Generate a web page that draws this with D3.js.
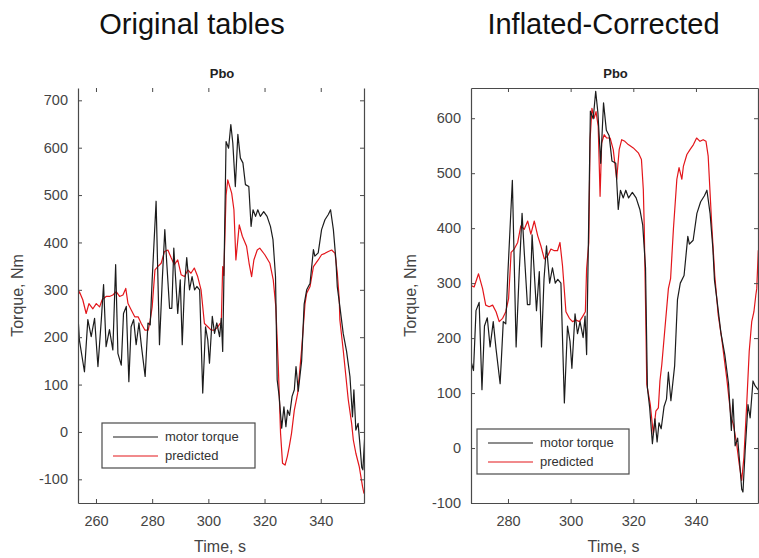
<!DOCTYPE html>
<html lang="en">
<head>
<meta charset="UTF-8">
<title>Pbo torque</title>
<script src="https://cdn.jsdelivr.net/npm/d3@7"></script>
<style>
    body { margin: 0; background: #fff; }
    text { font-family: "Liberation Sans", Arial, sans-serif; }
</style>
</head>
<body>
<div id="chart"></div>
<script>
// measured motor torque (same trace in both panels)
const motorTime = [253.6,254.1,255.9,257.1,258.3,259.5,260.7,261.9,262.7,263.6,264.8,266.0,267.0,267.8,269.0,269.8,270.8,271.7,272.5,273.4,274.3,275.3,276.2,277.5,278.5,279.3,280.0,281.4,282.6,283.6,284.5,285.2,286.2,287.0,287.7,288.3,289.1,290.0,290.7,291.5,292.3,293.3,294.2,295.1,295.9,296.9,298.0,299.0,299.8,300.4,301.4,302.2,303.0,304.0,304.6,305.1,305.6,306.3,307.2,308.0,308.7,309.6,310.5,311.4,312.3,313.2,314.4,315.2,315.9,316.8,317.6,318.5,319.7,320.9,322.1,323.0,323.9,324.5,325.2,326.1,326.9,327.6,328.2,328.9,329.8,330.6,331.2,332.0,333.2,334.1,335.0,336.2,337.4,337.9,339.1,340.3,341.5,342.7,343.5,344.5,345.4,345.9,346.8,348.0,349.2,350.4,351.3,351.8,352.5,353.3,353.9,354.6,355.0,355.7,356.6,357.3,358.2,358.9,360.0];
const motorTorque = [244,194,127,237,201,240,138,237,311,180,216,173,353,166,141,250,265,106,222,237,184,230,180,117,230,226,321,487,184,321,427,356,261,261,388,328,250,321,184,307,368,300,328,300,307,300,82,222,194,145,244,208,230,201,240,170,350,613,599,649,610,518,628,578,568,522,518,434,469,455,469,455,465,455,434,406,328,110,75,8,53,11,46,35,75,89,138,86,150,270,300,314,385,371,378,427,448,459,469,427,363,306,265,208,170,117,32,89,4,18,-23,-75,-80,-5,79,55,122,113,105];

// prediction with original tables
const origTime = [253.6,254.1,255.3,256.5,257.5,258.9,260.1,261.3,262.2,263.6,264.8,266.0,267.2,268.4,269.6,270.6,271.4,272.6,273.8,275.0,276.1,277.4,278.6,279.3,280.0,281.0,282.0,283.2,284.4,285.6,286.8,287.9,289.1,290.3,291.5,292.7,293.8,295.0,296.2,297.4,298.6,299.8,301.0,302.2,303.4,304.2,304.6,305.1,305.5,306.3,306.9,308.3,309.1,309.8,311.0,312.1,313.6,314.5,315.4,316.2,317.4,318.3,320.1,321.9,323.1,324.0,324.9,325.7,326.4,327.3,328.1,328.8,329.6,330.6,331.8,333.2,334.4,335.0,336.2,337.4,339.1,340.3,341.5,342.7,343.9,345.1,345.9,346.6,346.8,348.0,349.8,351.0,351.6,352.5,353.7,354.9,355.4];
const origPred = [289,296,279,250,271,260,271,264,279,286,286,289,296,286,289,303,271,257,243,243,229,215,215,236,264,342,349,356,381,384,367,353,363,332,328,342,335,346,328,300,229,222,215,215,222,229,230,349,330,500,532,504,469,363,437,413,392,356,328,363,384,388,374,356,321,265,138,-3,-66,-70,-52,-31,-3,46,82,174,270,293,307,349,363,374,377,381,384,377,335,279,237,173,68,18,-17,-45,-73,-116,-130];

// prediction with inflated-corrected tables
const corrTime = [268.1,269.2,270.6,271.9,272.9,274.0,275.1,276.2,277.2,278.3,279.3,280.2,281.0,282.0,283.1,284.1,285.2,286.3,287.3,288.4,289.5,290.5,291.6,292.7,293.7,294.8,295.8,296.6,297.4,298.5,299.6,300.6,301.7,302.8,303.8,304.7,305.1,305.8,306.2,306.8,307.5,308.1,308.8,309.4,309.9,310.7,311.5,312.6,313.6,314.7,315.5,316.3,317.3,318.4,320.0,321.6,322.6,323.2,323.5,324.0,324.3,325.4,326.4,327.2,328.0,328.5,329.1,330.1,331.2,331.9,332.8,333.9,334.6,335.5,336.0,337.1,338.1,339.2,340.2,341.3,342.3,343.2,343.9,345.0,346.0,347.1,348.2,349.8,351.2,351.9,353.0,353.8,354.6,355.3,356.2,357.0,357.8,358.5,359.1,359.4,359.9];
const corrPred = [296,293,317,290,260,257,260,248,230,236,248,272,356,362,374,404,398,413,389,413,386,368,344,350,362,359,359,374,332,248,236,230,233,230,239,248,326,374,560,618,600,612,585,458,555,570,564,564,543,489,543,561,558,552,546,537,525,470,400,230,116,80,25,67,73,122,152,218,290,308,398,489,510,489,513,534,543,552,564,558,561,558,531,410,314,242,200,128,56,44,7,-29,-59,-17,80,176,230,248,278,290,360];

const seriesNames = ["motor torque", "predicted"];
const panelTitles = ["Original tables", "Inflated-Corrected"];

const W = 759, H = 558;
const svg = d3.select("#chart").append("svg")
    .attr("width", W).attr("height", H);

const panels = [
    {title: panelTitles[0], left: 78, right: 364, top: 88, bottom: 503,
     xDomain: [253.6, 355.4], yDomain: [-150, 726],
     xTicks: [260, 280, 300, 320, 340], yTicks: [-100, 0, 100, 200, 300, 400, 500, 600, 700],
     pred: {t: origTime, v: origPred}, topLine: false,
     legend: {x: 102, y: 423, w: 153, h: 45}},
    {title: panelTitles[1], left: 471, right: 758, top: 88, bottom: 503,
     xDomain: [268.2, 359.8], yDomain: [-100, 655],
     xTicks: [280, 300, 320, 340], yTicks: [-100, 0, 100, 200, 300, 400, 500, 600],
     pred: {t: corrTime, v: corrPred}, topLine: true,
     legend: {x: 477, y: 429, w: 152, h: 45}}
];

const axisColor = "#4a4a4a";
const labelColor = "#444";

panels.forEach((p, i) => {
    const x = d3.scaleLinear(p.xDomain, [p.left, p.right]);
    const y = d3.scaleLinear(p.yDomain, [p.bottom, p.top]);
    const g = svg.append("g");
    const cx = (p.left + p.right) / 2;

    // big heading
    g.append("text")
        .attr("x", cx + (i === 0 ? -29 : -11)).attr("y", 34)
        .attr("text-anchor", "middle")
        .attr("font-size", 29)
        .attr("fill", "#111")
        .text(p.title);

    // small matlab title
    g.append("text")
        .attr("x", cx + 1).attr("y", 78)
        .attr("text-anchor", "middle")
        .attr("font-size", 13).attr("font-weight", "bold")
        .attr("fill", "#222")
        .text("Pbo");

    // clip
    const clipId = "clip" + i;
    svg.append("clipPath").attr("id", clipId)
        .append("rect")
        .attr("x", p.left).attr("y", p.top)
        .attr("width", p.right - p.left).attr("height", p.bottom - p.top);

    const line = d3.line().x(d => x(d[0])).y(d => y(d[1]));
    const motor = motorTime.map((t, k) => [t, motorTorque[k]]);
    const pred = p.pred.t.map((t, k) => [t, p.pred.v[k]]);

    const lines = g.append("g").attr("clip-path", `url(#${clipId})`);
    lines.append("path").datum(pred)
        .attr("d", line).attr("fill", "none")
        .attr("stroke", "#e3161b").attr("stroke-width", 1.2)
        .attr("stroke-linejoin", "round");
    lines.append("path").datum(motor)
        .attr("d", line).attr("fill", "none")
        .attr("stroke", "#1c1c1c").attr("stroke-width", 1.2)
        .attr("stroke-linejoin", "round");

    // axes (inward ticks, box)
    const fmt = d => String(d);
    const bottomAx = g.append("g")
        .attr("transform", `translate(0,${p.bottom})`)
        .call(d3.axisBottom(x).tickValues(p.xTicks).tickSizeInner(-4).tickSizeOuter(0).tickPadding(13).tickFormat(fmt));
    const topAx = g.append("g")
        .attr("transform", `translate(0,${p.top})`)
        .call(d3.axisTop(x).tickValues(p.xTicks).tickSizeInner(-4).tickSizeOuter(0).tickFormat(""));
    const leftAx = g.append("g")
        .attr("transform", `translate(${p.left},0)`)
        .call(d3.axisLeft(y).tickValues(p.yTicks).tickSizeInner(-4).tickSizeOuter(0).tickPadding(10).tickFormat(fmt));
    const rightAx = g.append("g")
        .attr("transform", `translate(${p.right},0)`)
        .call(d3.axisRight(y).tickValues(p.yTicks).tickSizeInner(-4).tickSizeOuter(0).tickFormat(""));

    [bottomAx, topAx, leftAx, rightAx].forEach(a => {
        a.selectAll("line").attr("stroke", axisColor);
        a.select(".domain").attr("stroke", axisColor).attr("stroke-width", 1.2);
        a.selectAll("text").attr("fill", labelColor).attr("font-size", 14.5)
            .attr("font-family", "'Liberation Sans', Arial, sans-serif");
    });
    if (!p.topLine) topAx.select(".domain").remove();

    // axis labels
    g.append("text")
        .attr("transform", `translate(${p.left - 55},${(p.top + p.bottom) / 2}) rotate(-90)`)
        .attr("text-anchor", "middle")
        .attr("font-size", 16).attr("fill", labelColor)
        .text("Torque, Nm");
    g.append("text")
        .attr("x", cx - 1).attr("y", 552)
        .attr("text-anchor", "middle")
        .attr("font-size", 16).attr("fill", labelColor)
        .text("Time, s");

    // legend
    const L = p.legend;
    const lg = g.append("g").attr("transform", `translate(${L.x},${L.y})`);
    lg.append("rect").attr("width", L.w).attr("height", L.h)
        .attr("fill", "#fff").attr("stroke", axisColor).attr("stroke-width", 1.2);
    const legColors = ["#1c1c1c", "#e3161b"];
    seriesNames.forEach((name, k) => {
        const yy = 14 + k * 19;
        lg.append("line").attr("x1", 11).attr("x2", 56).attr("y1", yy).attr("y2", yy)
            .attr("stroke", legColors[k]).attr("stroke-width", 1.2);
        lg.append("text").attr("x", 63).attr("y", yy + 4)
            .attr("font-size", 13).attr("fill", "#333")
            .text(name);
    });
});
</script>
</body>
</html>
